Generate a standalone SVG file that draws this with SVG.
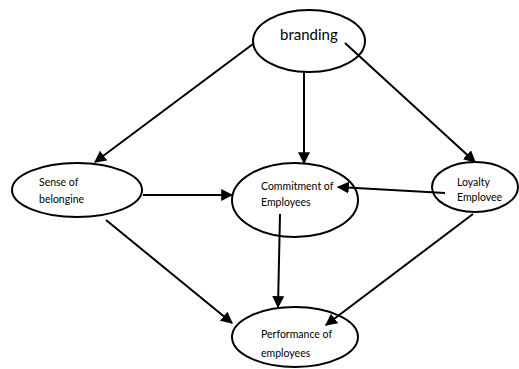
<svg xmlns="http://www.w3.org/2000/svg" width="519" height="369" viewBox="0 0 519 369">
<defs>
<style>
.node{fill:#fff;stroke:#000;stroke-width:2}
.t{font-family:Lato,"Open Sans","Liberation Sans",sans-serif;font-size:10.5px;fill:#000}
.big{font-size:15px}
.c line{stroke:#000;stroke-width:2;marker-end:url(#ah)}
</style>
<marker id="ah" viewBox="0 0 10 10" refX="9" refY="5" markerWidth="6" markerHeight="6" orient="auto" markerUnits="strokeWidth">
<path d="M0,0 L10,5 L0,10 z" fill="#000"/>
</marker>
</defs>
<rect width="519" height="369" fill="#fff"/>
<g id="branding"><ellipse class="node" cx="309" cy="41" rx="56" ry="31"/><text class="t big" x="280" y="40">branding</text></g>
<g id="sense"><ellipse class="node" cx="77" cy="190" rx="65" ry="27"/><text class="t" x="39" y="186">Sense of</text><text class="t" x="39" y="203">belongine</text></g>
<g id="commitment"><ellipse class="node" cx="295" cy="200" rx="63" ry="37"/><text class="t" x="261" y="190">Commitment of</text><text class="t" x="261" y="206">Employees</text></g>
<g id="loyalty"><ellipse class="node" cx="475" cy="187" rx="43" ry="25"/><text class="t" x="457" y="186">Loyalty</text><text class="t" x="457" y="201">Emplovee</text></g>
<g id="performance"><ellipse class="node" cx="295" cy="337" rx="63" ry="30"/><text class="t" x="261" y="338">Performance of</text><text class="t" x="261" y="357">employees</text></g>
<g class="c" id="connectors">
<line x1="253" y1="44" x2="95" y2="162"/>
<line x1="304" y1="72" x2="304" y2="163"/>
<line x1="345" y1="43" x2="475" y2="162"/>
<line x1="143" y1="195" x2="232" y2="195"/>
<line x1="445" y1="193" x2="338" y2="187"/>
<line x1="106" y1="220" x2="232" y2="323"/>
<line x1="280" y1="214" x2="278" y2="307"/>
<line x1="473" y1="214" x2="326" y2="325"/>
</g>
</svg>
